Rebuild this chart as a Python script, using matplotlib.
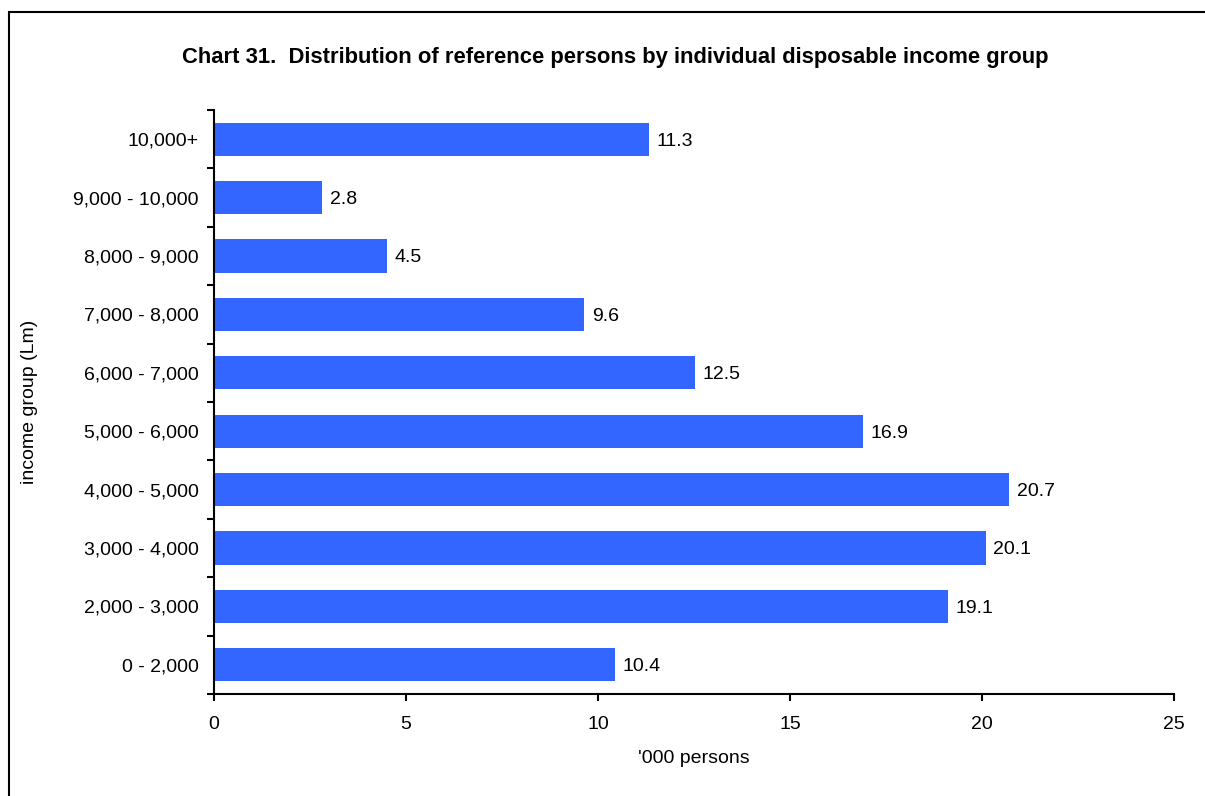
import matplotlib
matplotlib.use("Agg")
import matplotlib.pyplot as plt
from matplotlib.patches import Rectangle
import numpy as np

categories = ["0 - 2,000", "2,000 - 3,000", "3,000 - 4,000", "4,000 - 5,000",
              "5,000 - 6,000", "6,000 - 7,000", "7,000 - 8,000", "8,000 - 9,000",
              "9,000 - 10,000", "10,000+"]
values = [10.45, 19.12, 20.1, 20.7, 16.9, 12.52, 9.64, 4.51, 2.81, 11.33]
value_labels = ["10.4", "19.1", "20.1", "20.7", "16.9", "12.5", "9.6", "4.5", "2.8", "11.3"]
x_ticks = [0, 5, 10, 15, 20, 25]

plt.rcParams['font.family'] = ['Liberation Sans', 'DejaVu Sans']

W, H = 1205, 796
FS = 14
fig = plt.figure(figsize=(W / 100, H / 100), dpi=100)
ax = fig.add_axes([214 / W, 1 - 694 / H, (1174 - 214) / W, (694 - 110) / H])

y = np.arange(len(categories))
ax.barh(y, values, height=0.57, color="#3366FF", edgecolor="none", zorder=2)
for yi, v, lab in zip(y, values, value_labels):
    ax.annotate(lab, (v, yi), xytext=(5.5, 0), textcoords="offset points",
                va="center_baseline", ha="left", fontsize=FS)

ax.set_xlim(0, 25)
ax.set_ylim(-0.5, len(categories) - 0.5)
ax.set_xticks(x_ticks)
ax.set_xticklabels([str(t) for t in x_ticks], fontsize=FS)
ax.set_yticks(y)
ax.set_yticklabels(categories, fontsize=FS, va="center_baseline")
ax.tick_params(axis="y", which="major", length=0, pad=11)
ax.set_yticks(np.arange(-0.5, len(categories), 1.0), minor=True)
ax.tick_params(axis="y", which="minor", length=5, width=1.5, direction="out")
ax.tick_params(axis="x", length=5, width=1.5, direction="out", pad=11)

for s in ["top", "right"]:
    ax.spines[s].set_visible(False)
for s in ["left", "bottom"]:
    ax.spines[s].set_linewidth(1.5)

ax.set_xlabel("'000 persons", fontsize=FS, labelpad=12)
ax.set_ylabel("income group (Lm)", fontsize=FS)
ax.yaxis.set_label_coords((38 - 214) / (1174 - 214), 0.5)

fig.text(615 / W, 1 - 58 / H,
         "Chart 31.  Distribution of reference persons by individual disposable income group",
         ha="center", va="center", fontsize=15.8, fontweight="bold")

fig.patches.append(Rectangle((9 / W, -0.1), 2, 1.1 - 12 / H, fill=False,
                             linewidth=1.5, edgecolor="black",
                             transform=fig.transFigure, figure=fig))

fig.savefig("out.png", dpi=100)
